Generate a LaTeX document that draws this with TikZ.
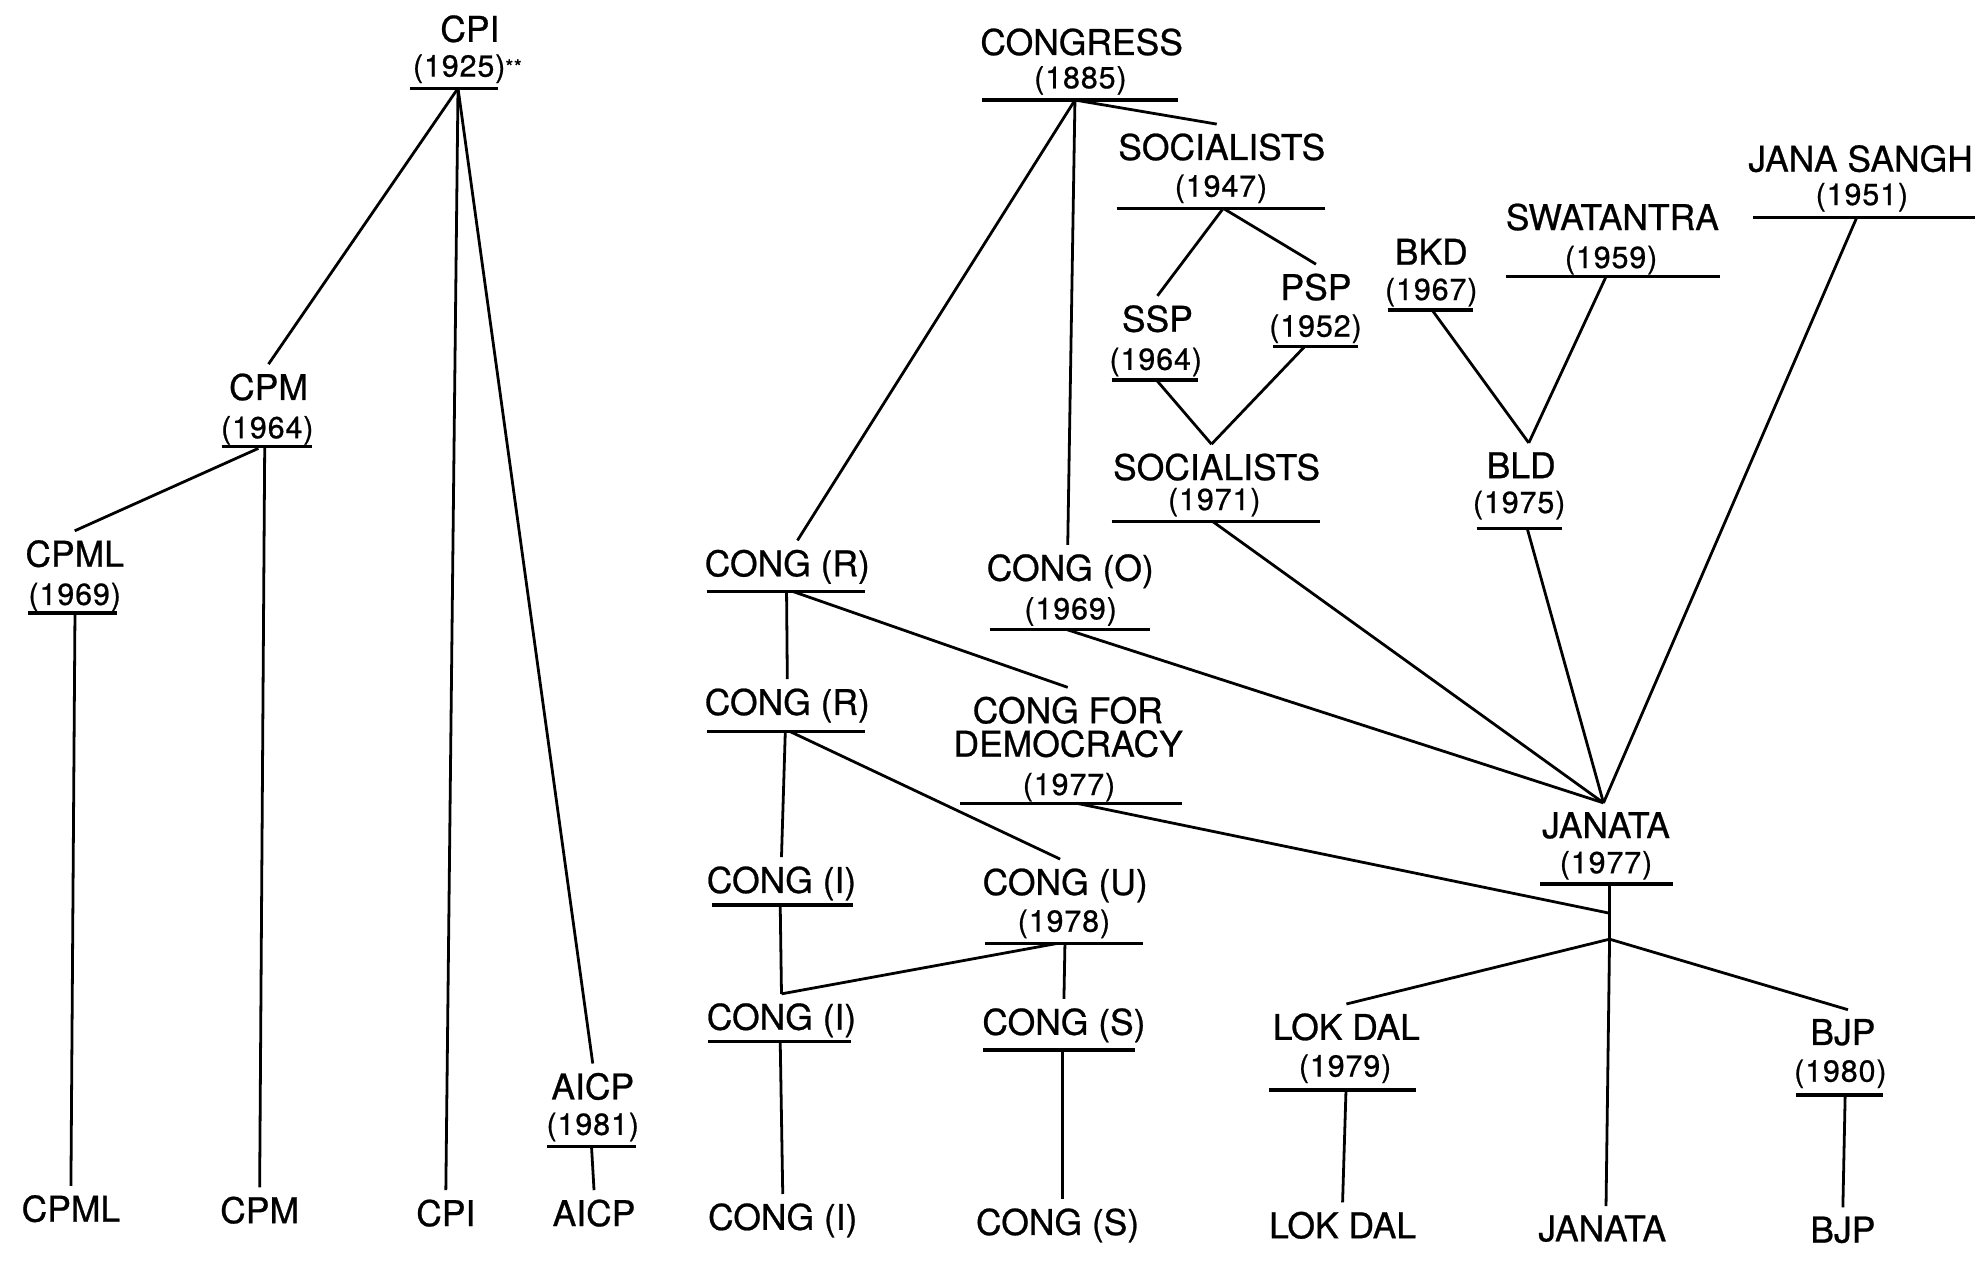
\documentclass[tikz,border=0pt]{standalone}
\usepackage{fontspec}
\setmainfont[FakeBold=0.7]{TeX Gyre Heros}
\newcommand\pnamefont{\fontsize{14}{16}\selectfont}
\newcommand\pyearfont{\fontsize{12}{14}\selectfont\addfontfeatures{LetterSpace=3}}
\tikzset{
  nm/.style={font=\pnamefont, anchor=base, inner sep=3.5pt},
  yr/.style={font=\pyearfont, anchor=base, inner sep=1pt},
  ul/.style={line width=1.3pt},
  ln/.style={line width=1.1pt}
}
\begin{document}
\begin{tikzpicture}[x=0.5pt,y=-0.5pt]
\fill[white] (0,0) rectangle (1568,1000);
\useasboundingbox (0,0) rectangle (1568,1000);

% ---------- Communist side ----------
\node[nm] (cpi) at (371,33) {CPI};
\node[yr] (cpiY) at (369,60.5) {(1925){\fontsize{8}{9}\selectfont\raisebox{1pt}{**}}};
\draw[ul] (323.7,69.7) -- (393,69.7);
\coordinate (cpiU) at (361.6,69.7);

\node[nm] (cpm) at (212,315.8) {CPM};
\node[yr] (cpmY) at (211,346) {(1964)};
\draw[ul] (175,352.7) -- (246,352.7);
\coordinate (cpmU) at (209,352.7);
\coordinate (cpmU2) at (204,354);

\node[nm] (cpml) at (59,447.4) {CPML};
\node[yr] (cpmlY) at (59,477.6) {(1969)};
\draw[ul] (22.4,484) -- (92,484);
\coordinate (cpmlU) at (59.2,484);

\node[nm] (aicp) at (468,868) {AICP};
\node[yr] (aicpY) at (468,896) {(1981)};
\draw[ul] (432,905) -- (502,905);
\coordinate (aicpU) at (467,905);

\node[nm] (cpmlB) at (56,964.5) {CPML};
\node[nm] (cpmB) at (205,965.7) {CPM};
\node[nm] (cpiB) at (352,968) {CPI};
\node[nm] (aicpB) at (469,968) {AICP};

\draw[ln] (cpiU) -- (cpm.north);
\draw[ln] (cpiU) -- (cpiB.north);
\draw[ln] (cpiU) -- (aicp.north);
\draw[ln] (cpmU2) -- (cpml.north);
\draw[ln] (cpmU) -- (cpmB.north);
\draw[ln] (cpmlU) -- (cpmlB.north);
\draw[ln] (aicpU) -- (aicpB.north);

% ---------- Congress side ----------
\node[nm] (cong) at (854,43.4) {CONGRESS};
\node[yr] (congY) at (853,69.7) {(1885)};
\draw[ul] (775,79) -- (930,79);
\coordinate (congU) at (848.7,79);

\node[nm] (soc47) at (964.6,126.3) {SOCIALISTS};
\node[yr] (soc47Y) at (964,155.3) {(1947)};
\draw[ul] (881.6,164.5) -- (1046,164.5);
\coordinate (soc47U) at (965.8,164.5);

\node[nm] (ssp) at (913.8,261.9) {SSP};
\node[yr] (sspY) at (912.5,292) {(1964)};
\draw[ul] (877.7,300) -- (946,300);
\coordinate (sspU) at (913,300);

\node[nm] (psp) at (1039,236.9) {PSP};
\node[yr] (pspY) at (1038.6,265.8) {(1952)};
\draw[ul] (1005,273.7) -- (1072,273.7);
\coordinate (pspU) at (1030,273.7);

\node[nm] (soc71) at (960.5,379) {SOCIALISTS};
\node[yr] (soc71Y) at (958.7,402.7) {(1971)};
\draw[ul] (877.7,412) -- (1042,412);
\coordinate (soc71U) at (957.8,412);

\node[nm] (js) at (1469,135.5) {JANA SANGH};
\node[yr] (jsY) at (1470,161.9) {(1951)};
\draw[ul] (1384,171.6) -- (1559,171.6);
\coordinate (jsU) at (1466,171.6);

\node[nm] (swa) at (1273,181.6) {SWATANTRA};
\node[yr] (swaY) at (1272,211.6) {(1959)};
\draw[ul] (1188.7,218.4) -- (1358,218.4);
\coordinate (swaU) at (1268,218.4);

\node[nm] (bkd) at (1130,209) {BKD};
\node[yr] (bkdY) at (1130,236.9) {(1967)};
\draw[ul] (1095.6,244.7) -- (1162.8,244.7);
\coordinate (bkdU) at (1130.6,244.7);

\node[nm] (bld) at (1201,377.5) {BLD};
\node[yr] (bldY) at (1199.4,405) {(1975)};
\draw[ul] (1165.8,417) -- (1233,417);
\coordinate (bldU) at (1205.7,417);

\node[nm] (cr1) at (621.6,455) {CONG (R)};
\draw[ul] (558,467) -- (683,467);
\coordinate (cr1U) at (621,467);
\coordinate (cr1U2) at (626,467);

\node[nm] (co) at (845,458.5) {CONG (O)};
\node[yr] (coY) at (845.3,489) {(1969)};
\draw[ul] (781.6,497) -- (908,497);
\coordinate (coU) at (842,497);

\node[nm] (cr2) at (621.6,564.5) {CONG (R)};
\draw[ul] (558,577.7) -- (683,577.7);
\coordinate (cr2U) at (620,577.7);
\coordinate (cr2U2) at (624,577.7);

\node[nm] (cfd) at (843,571) {CONG FOR};
\node[nm] (cfd2) at (843.3,597.4) {DEMOCRACY};
\node[yr] (cfdY) at (844,627.7) {(1977)};
\draw[ul] (758,634.2) -- (933,634.2);
\coordinate (cfdU) at (850,634.2);

\node[nm] (ci1) at (617,705) {CONG (I)};
\draw[ul] (562,714.5) -- (673.6,714.5);
\coordinate (ci1U) at (616,714.5);

\node[nm] (cu) at (841,706.6) {CONG (U)};
\node[yr] (cuY) at (840,735.6) {(1978)};
\draw[ul] (777.7,744.8) -- (902.6,744.8);
\coordinate (cuU) at (840.8,744.8);
\coordinate (cuU2) at (835,744.8);

\node[nm] (ci2) at (617,813) {CONG (I)};
\draw[ul] (559,822.4) -- (672,822.4);
\coordinate (ci2U) at (616,822.4);

\node[nm] (cs) at (840,817) {CONG (S)};
\draw[ul] (776,829) -- (896,829);
\coordinate (csU) at (839,829);

\node[nm] (jan) at (1268,661.7) {JANATA};
\node[yr] (janY) at (1268,689.4) {(1977)};
\draw[ul] (1216,698) -- (1321,698);
\coordinate (janU) at (1270.8,698);
\coordinate (janMid) at (1270.8,721);
\coordinate (janSplit) at (1270.8,741.5);

\node[nm] (ld) at (1063,821) {LOK DAL};
\node[yr] (ldY) at (1062,850) {(1979)};
\draw[ul] (1002,860.6) -- (1118,860.6);
\coordinate (ldU) at (1062.7,860.6);

\node[nm] (bjp) at (1455,825) {BJP};
\node[yr] (bjpY) at (1453,854) {(1980)};
\draw[ul] (1418,864.5) -- (1486.7,864.5);
\coordinate (bjpU) at (1456.8,864.5);

\node[nm] (ciB) at (618,971) {CONG (I)};
\node[nm] (csB) at (835,975) {CONG (S)};
\node[nm] (ldB) at (1060,977.6) {LOK DAL};
\node[nm] (janB) at (1265,980) {JANATA};
\node[nm] (bjpB) at (1455,981) {BJP};

% connectors
\draw[ln] (congU) -- ([xshift=4pt]cr1.north);
\draw[ln] (congU) -- ([xshift=-1pt]co.north);
\draw[ln] (congU) -- ([xshift=-2pt]soc47.north);
\draw[ln] (soc47U) -- (ssp.north);
\draw[ln] (soc47U) -- (psp.north);
\draw[ln] (sspU) -- ([xshift=-2pt]soc71.north);
\draw[ln] (pspU) -- ([xshift=-2pt]soc71.north);
\draw[ln] (bkdU) -- ([xshift=3pt]bld.north);
\draw[ln] (swaU) -- ([xshift=3pt]bld.north);
\draw[ln] (coU) -- ([xshift=-1pt]jan.north);
\draw[ln] (soc71U) -- ([xshift=-1pt]jan.north);
\draw[ln] (bldU) -- ([xshift=-1pt]jan.north);
\draw[ln] (jsU) -- ([xshift=-1pt]jan.north);
\draw[ln] (cr1U) -- (cr2.north);
\draw[ln] (cr1U2) -- (cfd.north);
\draw[ln] (cr2U) -- (ci1.north);
\draw[ln] (cr2U2) -- ([xshift=-2pt]cu.north);
\draw[ln] (ci1U) -- (ci2.north);
\draw[ln] (cuU2) -- (ci2.north);
\draw[ln] (cuU) -- (cs.north);
\draw[ln] (ci2U) -- (ciB.north);
\draw[ln] (csU) -- ([xshift=2pt]csB.north);
\draw[ln] (cfdU) -- (janMid);
\draw[ln] (janU) -- (janSplit);
\draw[ln] (janSplit) -- (ld.north);
\draw[ln] (janSplit) -- ([xshift=2pt]bjp.north);
\draw[ln] (janSplit) -- ([xshift=1.5pt]janB.north);
\draw[ln] (ldU) -- (ldB.north);
\draw[ln] (bjpU) -- (bjpB.north);
\end{tikzpicture}
\end{document}
